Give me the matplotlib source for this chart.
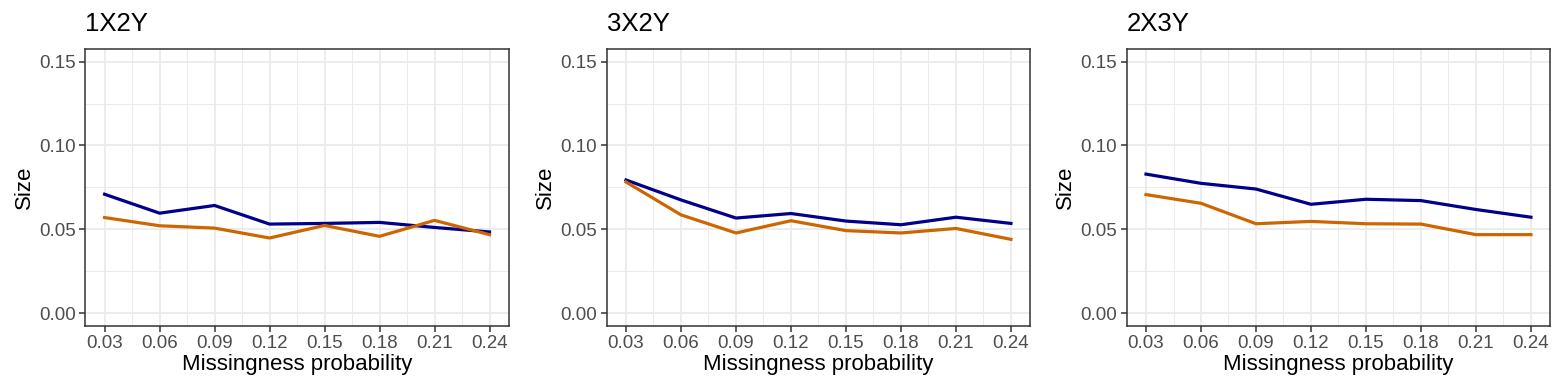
import matplotlib.pyplot as plt
from matplotlib.ticker import MultipleLocator

plt.rcParams['font.family'] = ['Liberation Sans', 'DejaVu Sans']

# missingness probabilities on the x axis
probs = [0.03, 0.06, 0.09, 0.12, 0.15, 0.18, 0.21, 0.24]
panels = ["1X2Y", "3X2Y", "2X3Y"]

# size estimates per panel, two methods
blue_1x2y = [0.0709, 0.0596, 0.0642, 0.0531, 0.0535, 0.0541, 0.0511, 0.0484]
orange_1x2y = [0.0570, 0.0521, 0.0507, 0.0448, 0.0523, 0.0458, 0.0553, 0.0468]
blue_3x2y = [0.0794, 0.0675, 0.0567, 0.0594, 0.0549, 0.0527, 0.0572, 0.0535]
orange_3x2y = [0.0782, 0.0586, 0.0478, 0.0551, 0.0492, 0.0478, 0.0505, 0.0440]
blue_2x3y = [0.0829, 0.0774, 0.0740, 0.0649, 0.0679, 0.0671, 0.0618, 0.0572]
orange_2x3y = [0.0707, 0.0655, 0.0533, 0.0547, 0.0533, 0.0531, 0.0468, 0.0468]

blues = [blue_1x2y, blue_3x2y, blue_2x3y]
oranges = [orange_1x2y, orange_3x2y, orange_2x3y]

fig = plt.figure(figsize=(15.63, 3.92), dpi=100)
lefts = [0.0546, 0.3882, 0.7209]

for i, name in enumerate(panels):
    ax = fig.add_axes([lefts[i], 0.1691, 0.2709, 0.7059])
    ax.plot(probs, blues[i], color='#00008B', lw=2.3, zorder=3)
    ax.plot(probs, oranges[i], color='#CD6600', lw=2.3, zorder=3)

    ax.set_xlim(0.0195, 0.2505)
    ax.set_ylim(-0.0075, 0.1575)
    ax.set_xticks(probs)
    ax.set_xticklabels([f"{p:.2f}" for p in probs])
    ax.set_yticks([0.0, 0.05, 0.10, 0.15])
    ax.set_yticklabels(["0.00", "0.05", "0.10", "0.15"])
    ax.xaxis.set_minor_locator(MultipleLocator(0.015))
    ax.yaxis.set_minor_locator(MultipleLocator(0.025))

    ax.grid(which='major', color='#EBEBEB', lw=1.3, zorder=0)
    ax.grid(which='minor', color='#EBEBEB', lw=0.7, zorder=0)
    ax.set_axisbelow(True)
    ax.tick_params(which='major', length=4, width=1.1, color='#333333',
                   labelcolor='#4D4D4D', labelsize=13.5, pad=3)
    ax.tick_params(which='minor', length=0)
    for s in ax.spines.values():
        s.set_color('#333333')
        s.set_linewidth(1.1)

    ax.set_title(name, loc='left', fontsize=18.5, pad=13)
    ax.set_xlabel("Missingness probability", fontsize=16, labelpad=1)
    ax.set_ylabel("Size", fontsize=16, labelpad=3)

plt.savefig("out.png", dpi=100)
plt.close()
